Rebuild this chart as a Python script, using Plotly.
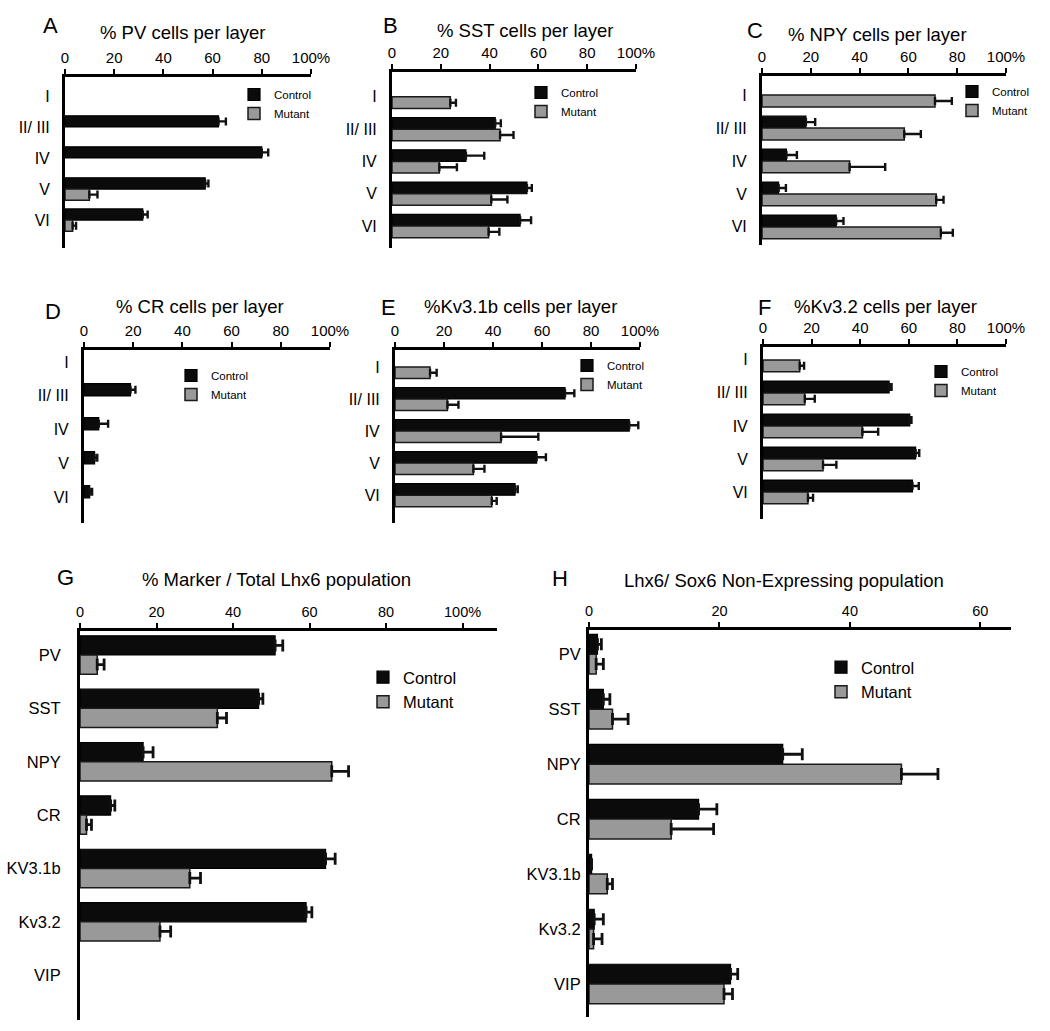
import plotly.graph_objects as go

# ---------------- data ----------------
layers = ["I", "II/ III", "IV", "V", "VI"]
markers = ["PV", "SST", "NPY", "CR", "KV3.1b", "Kv3.2", "VIP"]
x_ticks_pct = [0, 20, 40, 60, 80, 100]
x_ticktext_pct = ["0", "20", "40", "60", "80", "100%"]
x_ticks_h = [0, 20, 40, 60]
x_ticktext_h = ["0", "20", "40", "60"]

# None = no bar / no error bar drawn
pv_ctrl = [None, 62.4, 80.0, 57.0, 31.6]
pv_ctrl_err = [None, 3.0, 2.6, 1.3, 2.0]
pv_mut = [None, None, None, 9.9, 3.1]
pv_mut_err = [None, None, None, 3.3, 1.4]

sst_ctrl = [None, 42.3, 30.3, 55.3, 52.5]
sst_ctrl_err = [None, 2.3, 7.5, 2.0, 4.5]
sst_mut = [23.9, 44.3, 19.4, 40.7, 39.6]
sst_mut_err = [2.3, 5.5, 7.2, 6.6, 4.4]

npy_ctrl = [None, 18.0, 10.0, 6.8, 30.4]
npy_ctrl_err = [None, 3.8, 4.3, 3.0, 3.0]
npy_mut = [70.9, 58.3, 35.9, 71.4, 73.3]
npy_mut_err = [6.9, 6.8, 14.6, 3.0, 4.9]

cr_ctrl = [None, 18.9, 6.0, 4.3, 2.3]
cr_ctrl_err = [None, 2.0, 3.8, 1.1, 1.0]
cr_mut = [None, None, None, None, None]
cr_mut_err = [None, None, None, None, None]

kv31_ctrl = [None, 69.4, 95.6, 57.8, 49.0]
kv31_ctrl_err = [None, 3.8, 3.7, 3.8, 1.1]
kv31_mut = [14.3, 21.4, 43.3, 32.0, 39.5]
kv31_mut_err = [2.7, 4.5, 15.2, 4.5, 2.0]

kv32_ctrl = [None, 51.9, 60.4, 62.8, 61.5]
kv32_ctrl_err = [None, 1.0, 0.7, 1.5, 2.6]
kv32_mut = [15.1, 17.2, 40.9, 24.7, 18.5]
kv32_mut_err = [1.8, 4.1, 6.5, 5.5, 2.1]

lhx6_ctrl = [51.0, 46.7, 16.5, 8.0, 64.2, 59.1, None]
lhx6_ctrl_err = [2.0, 1.1, 2.6, 1.1, 2.5, 1.5, None]
lhx6_mut = [4.5, 35.9, 65.8, 1.7, 28.7, 20.9, None]
lhx6_mut_err = [1.8, 2.4, 4.4, 1.3, 2.8, 2.8, None]

non_ctrl = [1.3, 2.2, 29.7, 16.8, 0.4, 0.8, 21.7]
non_ctrl_err = [0.6, 1.0, 3.0, 2.8, None, 1.4, 1.1]
non_mut = [1.1, 3.6, 47.9, 12.6, 2.8, 0.7, 20.7]
non_mut_err = [1.1, 2.4, 5.6, 6.5, 0.8, 1.3, 1.3]

# ---------------- layout helpers ----------------
W, H = 1050, 1031
FONT = "Arial, Liberation Sans, Helvetica, sans-serif"


def X(px):
    return px / W


def Y(py):
    return 1 - py / H


panels = [
    dict(letter="A", lpos=(50, 25), title="% PV cells per layer", tpos=(183, 32), cats=layers,
         c=pv_ctrl, ce=pv_ctrl_err, m=pv_mut, me=pv_mut_err,
         box=(65, 311, 77, 248), xr=[0, 100], yr=[4.9, -0.61], tv=x_ticks_pct, tt=x_ticktext_pct,
         leg=(234, 80), big=False, standoff=9),
    dict(letter="B", lpos=(390, 25), title="% SST cells per layer", tpos=(525, 30), cats=layers,
         c=sst_ctrl, ce=sst_ctrl_err, m=sst_mut, me=sst_mut_err,
         box=(392, 636, 72, 248), xr=[0, 100], yr=[4.68, -0.77], tv=x_ticks_pct, tt=x_ticktext_pct,
         leg=(521, 78), big=False, standoff=9),
    dict(letter="C", lpos=(755, 30), title="% NPY cells per layer", tpos=(877, 34), cats=layers,
         c=npy_ctrl, ce=npy_ctrl_err, m=npy_mut, me=npy_mut_err,
         box=(762, 1006, 76, 245), xr=[0, 100], yr=[4.55, -0.58], tv=x_ticks_pct, tt=x_ticktext_pct,
         leg=(952, 77), big=False, standoff=9),
    dict(letter="D", lpos=(53, 311), title="% CR cells per layer", tpos=(200, 306), cats=layers,
         c=cr_ctrl, ce=cr_ctrl_err, m=cr_mut, me=cr_mut_err,
         box=(84, 330, 350, 523), xr=[0, 100], yr=[4.74, -0.35], tv=x_ticks_pct, tt=x_ticktext_pct,
         leg=(171, 361), big=False, standoff=9),
    dict(letter="E", lpos=(388, 307), title="%Kv3.1b cells per layer", tpos=(520, 306), cats=layers,
         c=kv31_ctrl, ce=kv31_ctrl_err, m=kv31_mut, me=kv31_mut_err,
         box=(395, 640, 350, 523), xr=[0, 100], yr=[4.87, -0.53], tv=x_ticks_pct, tt=x_ticktext_pct,
         leg=(567, 351), big=False, standoff=9),
    dict(letter="F", lpos=(764, 307), title="%Kv3.2 cells per layer", tpos=(885, 306), cats=layers,
         c=kv32_ctrl, ce=kv32_ctrl_err, m=kv32_mut, me=kv32_mut_err,
         box=(763, 1006, 347, 519), xr=[0, 100], yr=[4.82, -0.39], tv=x_ticks_pct, tt=x_ticktext_pct,
         leg=(921, 357), big=False, standoff=9),
    dict(letter="G", lpos=(65, 577), title="% Marker / Total Lhx6 population", tpos=(276, 579), cats=markers,
         c=lhx6_ctrl, ce=lhx6_ctrl_err, m=lhx6_mut, me=lhx6_mut_err,
         box=(80, 497, 631, 1020), xr=[0, 109], yr=[6.84, -0.45], tv=x_ticks_pct, tt=x_ticktext_pct,
         leg=(363, 660), big=True, standoff=13),
    dict(letter="H", lpos=(560, 578), title="Lhx6/ Sox6 Non-Expressing population", tpos=(784, 580), cats=markers,
         c=non_ctrl, ce=non_ctrl_err, m=non_mut, me=non_mut_err,
         box=(589, 1011, 630, 1017), xr=[0, 64.7], yr=[6.6, -0.44], tv=x_ticks_h, tt=x_ticktext_h,
         leg=(821, 650), big=True, standoff=2),
]

fig = go.Figure()
annotations = []
layout_axes = {}
legends = {}

for i, p in enumerate(panels):
    n = i + 1
    xa = "x" if n == 1 else f"x{n}"
    ya = "y" if n == 1 else f"y{n}"
    legname = "legend" if n == 1 else f"legend{n}"
    big = p["big"]
    cap = 6 if big else 4
    thick = 2.8 if big else 2.4

    fig.add_trace(go.Bar(
        y=p["cats"], x=p["c"], orientation="h", name="Control",
        marker=dict(color="#0b0b0b", line=dict(color="#000000", width=1.2)),
        error_x=dict(type="data", symmetric=False, array=p["ce"],
                     arrayminus=[0] * len(p["c"]), color="#111111", thickness=thick, width=cap),
        xaxis=xa, yaxis=ya, legend=legname, offsetgroup="c", hoverinfo="x+y",
    ))
    fig.add_trace(go.Bar(
        y=p["cats"], x=p["m"], orientation="h", name="Mutant",
        marker=dict(color="#999999", line=dict(color="#1a1a1a", width=1.5)),
        error_x=dict(type="data", symmetric=False, array=p["me"],
                     arrayminus=[0] * len(p["m"]), color="#111111", thickness=thick, width=cap),
        xaxis=xa, yaxis=ya, legend=legname, offsetgroup="m", hoverinfo="x+y",
    ))

    x0, x1, yt, yb = p["box"]
    xkey = "xaxis" if n == 1 else f"xaxis{n}"
    ykey = "yaxis" if n == 1 else f"yaxis{n}"
    layout_axes[xkey] = dict(
        domain=[X(x0), X(x1)], anchor=ya, side="top", range=p["xr"], automargin=False,
        tickvals=p["tv"], ticktext=p["tt"], ticks="outside", ticklen=5, tickwidth=2.2,
        tickcolor="#000", showline=True, linewidth=3, linecolor="#000",
        showgrid=False, zeroline=False, fixedrange=True,
        tickfont=dict(family=FONT, size=15 if not big else 14.5, color="#000"),
    )
    layout_axes[ykey] = dict(
        domain=[Y(yb), Y(yt)], anchor=xa, type="category", automargin=False,
        categoryorder="array", categoryarray=p["cats"], range=p["yr"],
        showline=True, linewidth=3, linecolor="#000", ticks="",
        showgrid=False, zeroline=False, fixedrange=True,
        ticklabelstandoff=p["standoff"],
        tickfont=dict(family=FONT, size=16.5 if big else 16, color="#000"),
    )
    lx, ly = p["leg"]
    legends[legname] = dict(
        x=X(lx), y=Y(ly), xanchor="left", yanchor="top",
        bgcolor="rgba(0,0,0,0)", borderwidth=0, tracegroupgap=0,
        font=dict(family=FONT, size=16.5 if big else 11.5, color="#000"),
    )
    annotations.append(dict(
        x=X(p["lpos"][0]), y=Y(p["lpos"][1]), xref="paper", yref="paper",
        text=p["letter"], showarrow=False, xanchor="center", yanchor="middle",
        font=dict(family=FONT, size=22, color="#000"),
    ))
    annotations.append(dict(
        x=X(p["tpos"][0]), y=Y(p["tpos"][1]), xref="paper", yref="paper",
        text=p["title"], showarrow=False, xanchor="center", yanchor="middle",
        borderpad=0,
        font=dict(family=FONT, size=18.5, color="#000"),
    ))

fig.update_layout(
    width=W, height=H,
    margin=dict(l=0, r=0, t=0, b=0, autoexpand=False),
    paper_bgcolor="white", plot_bgcolor="white",
    barmode="group", bargap=0.28, bargroupgap=0.0,
    annotations=annotations,
    showlegend=True,
    **layout_axes,
    **legends,
)

fig.write_html(
    "out.html",
    config={"displayModeBar": False},
    post_script="document.body.style.margin='0';document.body.style.overflow='hidden';",
)
